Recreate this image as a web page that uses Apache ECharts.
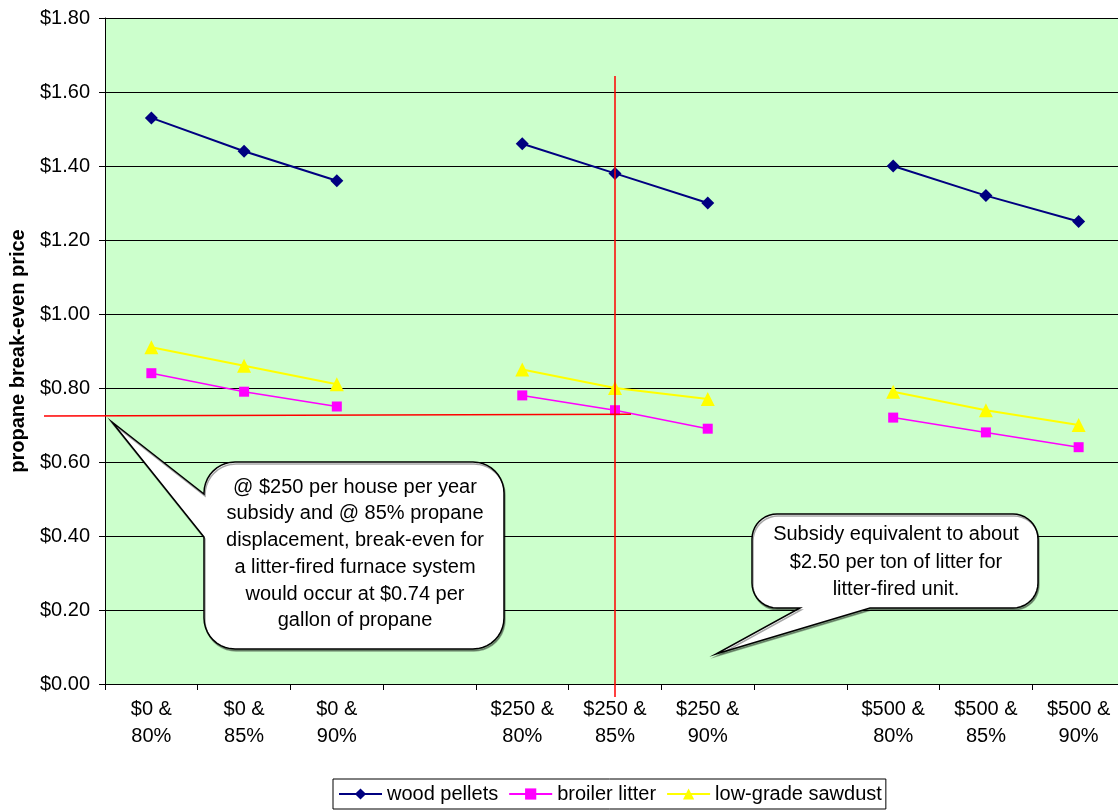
<!DOCTYPE html>
<html>
<head>
<meta charset="utf-8">
<script src="https://cdn.jsdelivr.net/npm/echarts@6/dist/echarts.min.js"></script>
<style>
html,body{margin:0;padding:0;background:#fff;}
#chart{width:1118px;height:811px;}
</style>
</head>
<body>
<div id="chart"></div>
<script>
// ---- data ----
var categories = ['$0 &\n80%', '$0 &\n85%', '$0 &\n90%', '',
                  '$250 &\n80%', '$250 &\n85%', '$250 &\n90%', ' ',
                  '$500 &\n80%', '$500 &\n85%', '$500 &\n90%'];
var woodPellets   = [1.53, 1.44, 1.36, null, 1.46, 1.38, 1.30, null, 1.40, 1.32, 1.25];
var broilerLitter = [0.84, 0.79, 0.75, null, 0.78, 0.74, 0.69, null, 0.72, 0.68, 0.64];
var sawdust       = [0.91, 0.86, 0.81, null, 0.85, 0.80, 0.77, null, 0.79, 0.74, 0.70];
var seriesNames = ['wood pellets', 'broiler litter', 'low-grade sawdust'];
var yTitle = 'propane break-even price';
// reference lines: break-even at $250 subsidy & 85% displacement
var refCategoryIndex = 5;
var refValueLeft = 0.724, refValueRight = 0.729;
var refVerticalTop = 1.643;
var note1 = '@ $250 per house per year\nsubsidy and @ 85% propane\ndisplacement, break-even for\na litter-fired furnace system\nwould occur at $0.74 per\ngallon of propane';
var note2 = 'Subsidy equivalent to about\n$2.50 per ton of litter for\nlitter-fired unit.';

var FONT = '"Liberation Sans", Arial, sans-serif';
var chart = echarts.init(document.getElementById('chart'), null, {renderer: 'canvas'});

var option = {
  animation: false,
  backgroundColor: '#ffffff',
  textStyle: {fontFamily: FONT},
  grid: {left: 105, top: 18, right: -7, bottom: 127, containLabel: false,
         outerBoundsMode: 'none',
         show: true, backgroundColor: '#CCFFCC', borderWidth: 0},
  legend: {
    left: 333, top: 779,
    data: seriesNames,
    itemWidth: 43, itemHeight: 14, itemGap: 10,
    padding: [5, 4, 5, 5],
    borderColor: '#000', borderWidth: 1,
    textStyle: {fontFamily: FONT, fontSize: 20, color: '#000'}
  },
  xAxis: {
    type: 'category',
    data: categories,
    boundaryGap: true,
    axisLine: {lineStyle: {color: '#000', width: 1}},
    axisTick: {show: true, interval: 0, length: 6, lineStyle: {color: '#000'}},
    axisLabel: {interval: 0, color: '#000', fontSize: 20, fontFamily: FONT, lineHeight: 27, margin: 12},
    splitLine: {show: false}
  },
  yAxis: {
    type: 'value',
    min: 0, max: 1.8, interval: 0.2,
    name: yTitle,
    nameLocation: 'middle',
    nameGap: 77,
    nameRotate: 90,
    nameTextStyle: {fontFamily: FONT, fontSize: 20, fontWeight: 'bold', color: '#000'},
    axisLine: {show: true, lineStyle: {color: '#000', width: 1}},
    axisTick: {show: true, length: 6, lineStyle: {color: '#000'}},
    axisLabel: {color: '#000', fontSize: 20, fontFamily: FONT, margin: 15,
      formatter: function (v) { return '$' + v.toFixed(2); }},
    splitLine: {show: true, lineStyle: {color: '#000', width: 1}}
  },
  series: [
    {name: seriesNames[0], type: 'line', data: woodPellets, connectNulls: false,
     symbol: 'diamond', symbolSize: 13, color: '#000080',
     lineStyle: {color: '#000080', width: 2}, itemStyle: {color: '#000080'}},
    {name: seriesNames[1], type: 'line', data: broilerLitter, connectNulls: false,
     symbol: 'rect', symbolSize: 10, color: '#FF00FF',
     lineStyle: {color: '#FF00FF', width: 1.5}, itemStyle: {color: '#FF00FF'}},
    {name: seriesNames[2], type: 'line', data: sawdust, connectNulls: false,
     symbol: 'triangle', symbolSize: 14, color: '#FFFF00',
     lineStyle: {color: '#FFFF00', width: 2}, itemStyle: {color: '#FFFF00'}}
  ]
};
chart.setOption(option);

// annotation overlay (reference lines positioned via the chart's own scales)
var pRight = chart.convertToPixel({xAxisIndex: 0, yAxisIndex: 0}, [refCategoryIndex, refValueRight]);
var pLeft = chart.convertToPixel({xAxisIndex: 0, yAxisIndex: 0}, [0, refValueLeft]);
var pTop = chart.convertToPixel({xAxisIndex: 0, yAxisIndex: 0}, [refCategoryIndex, refVerticalTop]);
var pZero = chart.convertToPixel({xAxisIndex: 0, yAxisIndex: 0}, [refCategoryIndex, 0]);
var gridLeft = 105;

function arc(pts, cx, cy, r, a0, a1) {
  var n = 10;
  for (var i = 0; i <= n; i++) {
    var a = a0 + (a1 - a0) * i / n;
    pts.push([cx + r * Math.cos(a), cy + r * Math.sin(a)]);
  }
}
var PI = Math.PI;
// callout 1: rounded box with pointer on its left side
function bubble1() {
  var x0 = 204, x1 = 504, y0 = 462, y1 = 649, r = 31, p = [];
  arc(p, x0 + r, y0 + r, r, PI, 1.5 * PI);
  arc(p, x1 - r, y0 + r, r, 1.5 * PI, 2 * PI);
  arc(p, x1 - r, y1 - r, r, 0, 0.5 * PI);
  arc(p, x0 + r, y1 - r, r, 0.5 * PI, PI);
  p.push([x0, 537]); p.push([112, 422]); p.push([x0, 494]);
  return p;
}
// callout 2: rounded box with pointer on its bottom side
function bubble2() {
  var x0 = 752, x1 = 1038, y0 = 514, y1 = 608, r = 25, p = [];
  arc(p, x0 + r, y0 + r, r, PI, 1.5 * PI);
  arc(p, x1 - r, y0 + r, r, 1.5 * PI, 2 * PI);
  arc(p, x1 - r, y1 - r, r, 0, 0.5 * PI);
  p.push([870, y1]); p.push([716, 654]); p.push([800, y1]);
  arc(p, x0 + r, y1 - r, r, 0.5 * PI, PI);
  return p;
}
var bubbleStyle = {fill: '#ffffff', stroke: '#000', lineWidth: 1.5,
                   shadowColor: 'rgba(0,0,0,0.35)', shadowOffsetX: 1, shadowOffsetY: 2, shadowBlur: 0};

chart.setOption({
  graphic: [
    {type: 'line', z: 100, silent: true,
     shape: {x1: gridLeft - 61, y1: pLeft[1], x2: pRight[0] + 16, y2: pRight[1]},
     style: {stroke: '#FF0000', lineWidth: 1.5}},
    {type: 'line', z: 100, silent: true,
     shape: {x1: pTop[0], y1: pTop[1], x2: pTop[0], y2: pZero[1] + 13},
     style: {stroke: '#FF0000', lineWidth: 1.5}},
    {type: 'polygon', z: 101, silent: true,
     shape: {points: bubble1()}, style: bubbleStyle},
    {type: 'text', z: 102, silent: true, x: 355, y: 554,
     style: {text: note1, fontFamily: FONT, fontSize: 20, lineHeight: 26.7, fill: '#000',
             align: 'center', verticalAlign: 'middle'}},
    {type: 'polygon', z: 101, silent: true,
     shape: {points: bubble2()}, style: bubbleStyle},
    {type: 'text', z: 102, silent: true, x: 896, y: 562,
     style: {text: note2, fontFamily: FONT, fontSize: 20, lineHeight: 27.5, fill: '#000',
             align: 'center', verticalAlign: 'middle'}}
  ]
});
</script>
</body>
</html>
